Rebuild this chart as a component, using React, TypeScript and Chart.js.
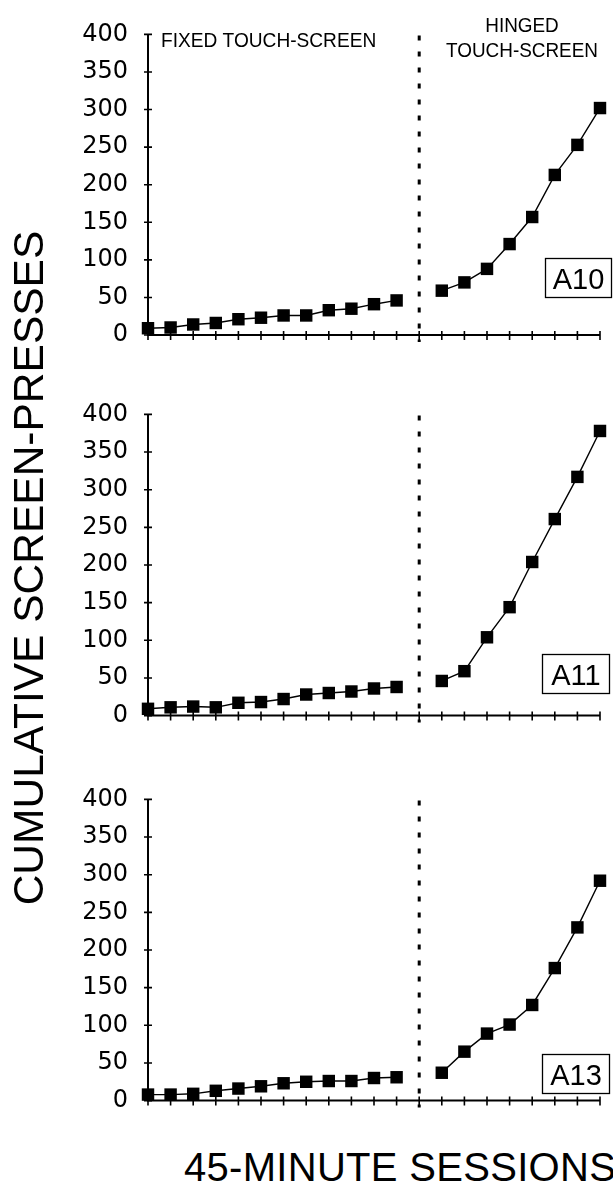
import React, { useEffect, useRef } from 'react';
import { Chart, registerables } from 'chart.js';

Chart.register(...registerables);

// ---- data ----
const fixedSessions = [0, 1, 2, 3, 4, 5, 6, 7, 8, 9, 10, 11];
const hingedSessions = [13, 14, 15, 16, 17, 18, 19, 20];
const xTickSessions = [0, 1, 2, 3, 4, 5, 6, 7, 8, 9, 10, 11, 12, 13, 14, 15, 16, 17, 18, 19, 20];
const yTickValues = [0, 50, 100, 150, 200, 250, 300, 350, 400];
const phaseChangeAt = 12;

const a10Fixed = [9, 10, 14, 16, 21, 23, 26, 26, 33, 35, 41, 46];
const a10Hinged = [59, 70, 88, 121, 157, 213, 253, 302];
const a11Fixed = [9, 11, 12, 11, 17, 18, 22, 28, 30, 32, 36, 38];
const a11Hinged = [46, 59, 104, 144, 204, 261, 317, 378];
const a13Fixed = [8, 8, 9, 13, 16, 19, 23, 25, 26, 26, 30, 31];
const a13Hinged = [37, 65, 89, 101, 127, 176, 230, 292];

const yTitle = 'CUMULATIVE SCREEN-PRESSES';
const xTitle = '45-MINUTE SESSIONS';
const fixedLabel = 'FIXED TOUCH-SCREEN';
const hingedLabel1 = 'HINGED';
const hingedLabel2 = 'TOUCH-SCREEN';

const SANS = '"Liberation Sans", Arial, sans-serif';

type Box = { left: number; top: number; w: number; h: number };
type PanelProps = {
  fixed: number[];
  hinged: number[];
  label: string;
  canvasTop: number;
  canvasHeight: number;
  padTop: number;
  padBottom: number;
  box: Box;
  phaseLabels: boolean;
};

function makeDecor(p: PanelProps) {
  return {
    id: 'panelDecor',
    beforeDatasetsDraw(chart: any) {
      const { ctx } = chart;
      const x = chart.scales.x;
      const y = chart.scales.y;
      const x0 = x.getPixelForValue(0);
      const x1 = x.getPixelForValue(20);
      const y0 = y.getPixelForValue(0);
      const yTop = y.getPixelForValue(400);
      ctx.save();
      ctx.strokeStyle = '#000';
      ctx.lineWidth = 2;
      ctx.beginPath();
      ctx.moveTo(x0, y0 + 1);
      ctx.lineTo(x0, yTop);
      ctx.moveTo(x0 - 1, y0);
      ctx.lineTo(x1, y0);
      ctx.stroke();
      ctx.lineWidth = 1.6;
      ctx.beginPath();
      yTickValues.forEach((v) => {
        const py = y.getPixelForValue(v);
        ctx.moveTo(x0 - 4, py);
        ctx.lineTo(x0 + 4, py);
      });
      xTickSessions.forEach((s) => {
        const px = x.getPixelForValue(s);
        ctx.moveTo(px, y0 - 4);
        ctx.lineTo(px, y0 + 5);
      });
      ctx.stroke();
      const xd = x.getPixelForValue(phaseChangeAt);
      ctx.setLineDash([5, 11]);
      ctx.lineWidth = 3;
      ctx.beginPath();
      ctx.moveTo(xd, yTop + 1);
      ctx.lineTo(xd, y0 + 7);
      ctx.stroke();
      ctx.restore();
    },
    afterDatasetsDraw(chart: any) {
      const { ctx } = chart;
      const off = p.canvasTop;
      ctx.save();
      ctx.fillStyle = '#000';
      ctx.strokeStyle = '#000';
      const b = p.box;
      ctx.lineWidth = 1.3;
      ctx.strokeRect(b.left + 0.5, b.top - off + 0.5, b.w - 1, b.h - 1);
      ctx.font = `29px ${SANS}`;
      ctx.textAlign = 'center';
      ctx.textBaseline = 'alphabetic';
      ctx.fillText(p.label, b.left + b.w / 2, b.top - off + b.h / 2 + 10.5);
      if (p.phaseLabels) {
        ctx.font = `19.5px ${SANS}`;
        ctx.textAlign = 'left';
        ctx.save();
        ctx.translate(161, 46.5 - off);
        ctx.scale(0.98, 1);
        ctx.fillText(fixedLabel, 0, 0);
        ctx.restore();
        ctx.textAlign = 'center';
        ctx.save();
        ctx.translate(522, 32 - off);
        ctx.scale(0.97, 1);
        ctx.fillText(hingedLabel1, 0, 0);
        ctx.restore();
        ctx.save();
        ctx.translate(522, 57 - off);
        ctx.scale(0.97, 1);
        ctx.fillText(hingedLabel2, 0, 0);
        ctx.restore();
      }
      ctx.restore();
    },
  };
}

const seriesStyle = {
  borderColor: '#000',
  borderWidth: 1.4,
  pointStyle: 'rect' as const,
  pointRadius: 8.8,
  pointBackgroundColor: '#000',
  pointBorderColor: '#000',
  pointBorderWidth: 0,
  tension: 0,
  clip: false as any,
  fill: false,
};

function Panel(p: PanelProps) {
  const ref = useRef<HTMLCanvasElement>(null);
  useEffect(() => {
    const chart = new Chart(ref.current as HTMLCanvasElement, {
      type: 'line',
      data: {
        datasets: [
          { ...seriesStyle, data: p.fixed.map((v, i) => ({ x: fixedSessions[i], y: v })) },
          { ...seriesStyle, data: p.hinged.map((v, i) => ({ x: hingedSessions[i], y: v })) },
        ],
      },
      options: {
        animation: false,
        responsive: false,
        events: [],
        layout: { padding: { top: p.padTop, bottom: p.padBottom, left: 0, right: 13 } },
        plugins: { legend: { display: false }, tooltip: { enabled: false } },
        scales: {
          x: { type: 'linear', min: 0, max: 20, display: false },
          y: {
            type: 'linear',
            min: 0,
            max: 400,
            afterFit: (s: any) => {
              s.width = 148;
            },
            afterBuildTicks: (s: any) => {
              s.ticks = yTickValues.map((v) => ({ value: v }));
            },
            ticks: {
              color: '#000',
              padding: 20,
              font: { family: '"DejaVu Sans", sans-serif', size: 24 },
              callback: (v: any) => String(v),
            },
            grid: { display: false, drawTicks: false },
            border: { display: false },
          },
        },
      } as any,
      plugins: [makeDecor(p) as any],
    });
    return () => chart.destroy();
  }, []);
  return (
    <canvas
      ref={ref}
      width={613}
      height={p.canvasHeight}
      style={{ position: 'absolute', left: 0, top: p.canvasTop, width: 613, height: p.canvasHeight }}
    />
  );
}

export default function App() {
  return (
    <div style={{ position: 'absolute', left: 0, top: 0, width: 613, height: 1201, background: '#fff', overflow: 'hidden' }}>
      <Panel
        fixed={a10Fixed}
        hinged={a10Hinged}
        label="A10"
        canvasTop={0}
        canvasHeight={370}
        padTop={22}
        padBottom={35}
        box={{ left: 545, top: 258, w: 67, h: 40 }}
        phaseLabels={true}
      />
      <Panel
        fixed={a11Fixed}
        hinged={a11Hinged}
        label="A11"
        canvasTop={380}
        canvasHeight={370}
        padTop={30}
        padBottom={30}
        box={{ left: 542, top: 654, w: 68, h: 40 }}
        phaseLabels={false}
      />
      <Panel
        fixed={a13Fixed}
        hinged={a13Hinged}
        label="A13"
        canvasTop={765}
        canvasHeight={370}
        padTop={30}
        padBottom={28.5}
        box={{ left: 542, top: 1054, w: 68, h: 40 }}
        phaseLabels={false}
      />
      <div
        style={{
          position: 'absolute',
          left: 29 - 360,
          top: 568 - 21,
          width: 720,
          height: 42,
          lineHeight: '42px',
          fontSize: 42.5,
          fontFamily: SANS,
          textAlign: 'center',
          whiteSpace: 'nowrap',
          transform: 'rotate(-90deg)',
          color: '#000',
        }}
      >
        {yTitle}
      </div>
      <div
        style={{
          position: 'absolute',
          left: 184,
          top: 1147,
          lineHeight: '40px',
          fontSize: 40,
          fontFamily: SANS,
          letterSpacing: '0.3px',
          whiteSpace: 'nowrap',
          color: '#000',
        }}
      >
        {xTitle}
      </div>
    </div>
  );
}
